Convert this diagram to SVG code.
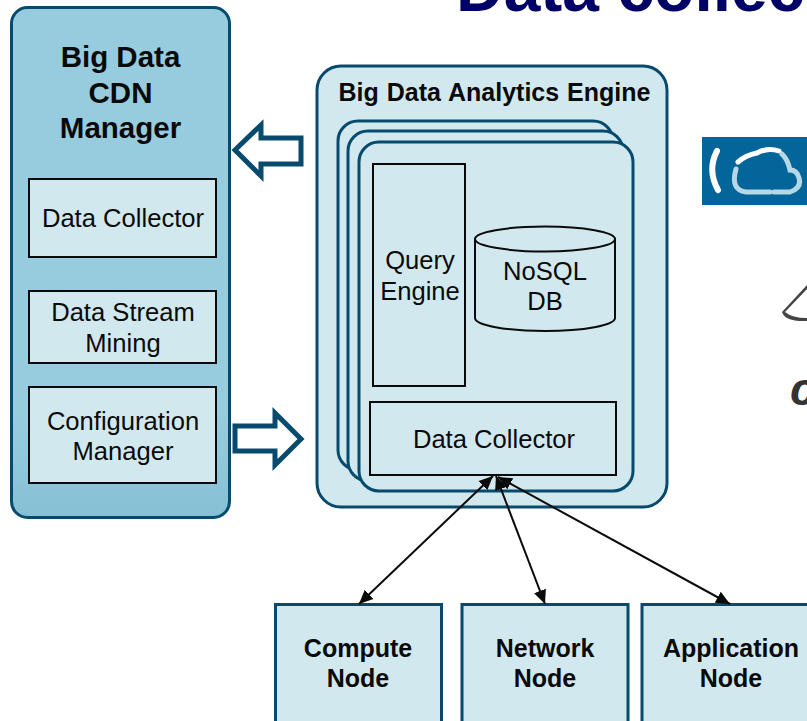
<svg xmlns="http://www.w3.org/2000/svg" width="807" height="721" viewBox="0 0 807 721">
<style>
text{font-family:"Liberation Sans",Arial,sans-serif;fill:#0a0a0a;text-anchor:middle}
.f{font-size:25.600px}
.g{font-size:29.500px;font-weight:bold}
.h{font-size:25px;font-weight:bold}
.teal{stroke:#064a6e;stroke-width:3;fill:#d2e8ef}
.box{stroke:#0a0a0a;stroke-width:2;fill:#d2e8ef}
.arrow{stroke:#064a6e;stroke-width:5;fill:#fff;stroke-linejoin:miter}
.conn{stroke:#0a0a0a;stroke-width:2;fill:none;marker-start:url(#ah);marker-end:url(#ah)}
</style>
<defs>
<linearGradient id="mgr" x1="0" y1="0" x2="0" y2="1"><stop offset="0" stop-color="#97ccdf"/><stop offset="0.8" stop-color="#97ccdf"/><stop offset="1" stop-color="#86c0d6"/></linearGradient>
<marker id="ah" viewBox="0 0 10 10" refX="10" refY="5" markerWidth="7" markerHeight="7" orient="auto-start-reverse"><path d="M0 0.500L10 5L0 9.500Z" fill="#0a0a0a"/></marker>
</defs>
<rect width="807" height="721" fill="#fff"/>
<text x="456" y="10.500" style="text-anchor:start;fill:#000066;font-size:66px;font-weight:bold">Data collection</text>
<g id="logo">
<rect x="702" y="137" width="105" height="68" fill="#03659a"/>
<path d="M717 151Q707 170 718 190" stroke="#fff" stroke-width="6" stroke-linecap="round" fill="none"/>
<path d="M738 162Q746 155 757 153Q768 147 779 151" stroke="#fff" stroke-width="5" stroke-linecap="round" fill="none"/>
<path d="M736 169Q730 190 746 192L770 192M774 192L790 192Q802 188 799 178Q797 170 790 170Q788 160 782 154" stroke="#b5d8e6" stroke-width="5" stroke-linecap="round" fill="none"/>
<path d="M782 312L807 285L807 289L785 312Q792 318 807 318L807 321Q785 322 782 312Z" fill="#444"/>
<text x="790" y="405" style="text-anchor:start;font-size:46px;font-weight:bold;font-style:italic;fill:#333">c</text>
</g>
<g id="manager">
<rect x="11.500" y="7.500" width="218" height="510" rx="16" fill="url(#mgr)" stroke="#064a6e" stroke-width="3"/>
<text class="g" x="120.500" y="67">Big Data</text>
<text class="g" x="120.500" y="103">CDN</text>
<text class="g" x="120.500" y="138">Manager</text>
</g>
<g id="mgr-collector"><rect class="box" x="29" y="179" width="187" height="78"/><text class="f" x="123" y="227">Data Collector</text></g>
<g id="mgr-mining"><rect class="box" x="29" y="291" width="187" height="72"/><text class="f" x="123" y="321">Data Stream</text><text class="f" x="123" y="352">Mining</text></g>
<g id="mgr-config"><rect class="box" x="29" y="387" width="187" height="96"/><text class="f" x="123" y="430">Configuration</text><text class="f" x="123" y="460">Manager</text></g>
<g id="engine">
<rect class="teal" x="317" y="66" width="350" height="441" rx="24"/>
<text class="h" x="494.500" y="101" style="word-spacing:1px">Big Data Analytics Engine</text>
<rect class="teal" x="338" y="121" width="275" height="349" rx="20"/>
<rect class="teal" x="348" y="131" width="275" height="350" rx="20"/>
<rect class="teal" x="359" y="142" width="274" height="349" rx="20"/>
</g>
<g id="query-engine"><rect class="box" x="373" y="164" width="92" height="222"/><text class="f" x="420" y="269">Query</text><text class="f" x="420" y="300">Engine</text></g>
<g id="nosql">
<path d="M475 239V318A70 13 0 0 0 615 318V239Z" fill="#d2e8ef" stroke="#0a0a0a" stroke-width="2"/>
<ellipse cx="545" cy="239" rx="70" ry="12.500" fill="#d2e8ef" stroke="#0a0a0a" stroke-width="2"/>
<text class="f" x="545" y="280">NoSQL</text><text class="f" x="545" y="310">DB</text>
</g>
<g id="engine-collector"><rect class="box" x="370" y="402" width="246" height="73"/><text class="f" x="494" y="448">Data Collector</text></g>
<g id="compute"><rect class="teal" x="275.500" y="604.500" width="166" height="130"/><text class="h" x="358" y="657">Compute</text><text class="h" x="358" y="687">Node</text></g>
<g id="network"><rect class="teal" x="462" y="604.500" width="166" height="130"/><text class="h" x="545" y="657">Network</text><text class="h" x="545" y="687">Node</text></g>
<g id="application"><rect class="teal" x="642" y="604.500" width="180" height="130"/><text class="h" x="731" y="657">Application</text><text class="h" x="731" y="687">Node</text></g>
<g id="connectors">
<path class="arrow" d="M235 150L261 125V138H301V164H261V176Z"/>
<path class="arrow" d="M301 439L275 413V426H235V451H275V465Z"/>
<line class="conn" x1="359" y1="604" x2="493" y2="476"/>
<line class="conn" x1="545" y1="604" x2="496" y2="476"/>
<line class="conn" x1="730" y1="604" x2="498" y2="477"/>
</g>
</svg>
